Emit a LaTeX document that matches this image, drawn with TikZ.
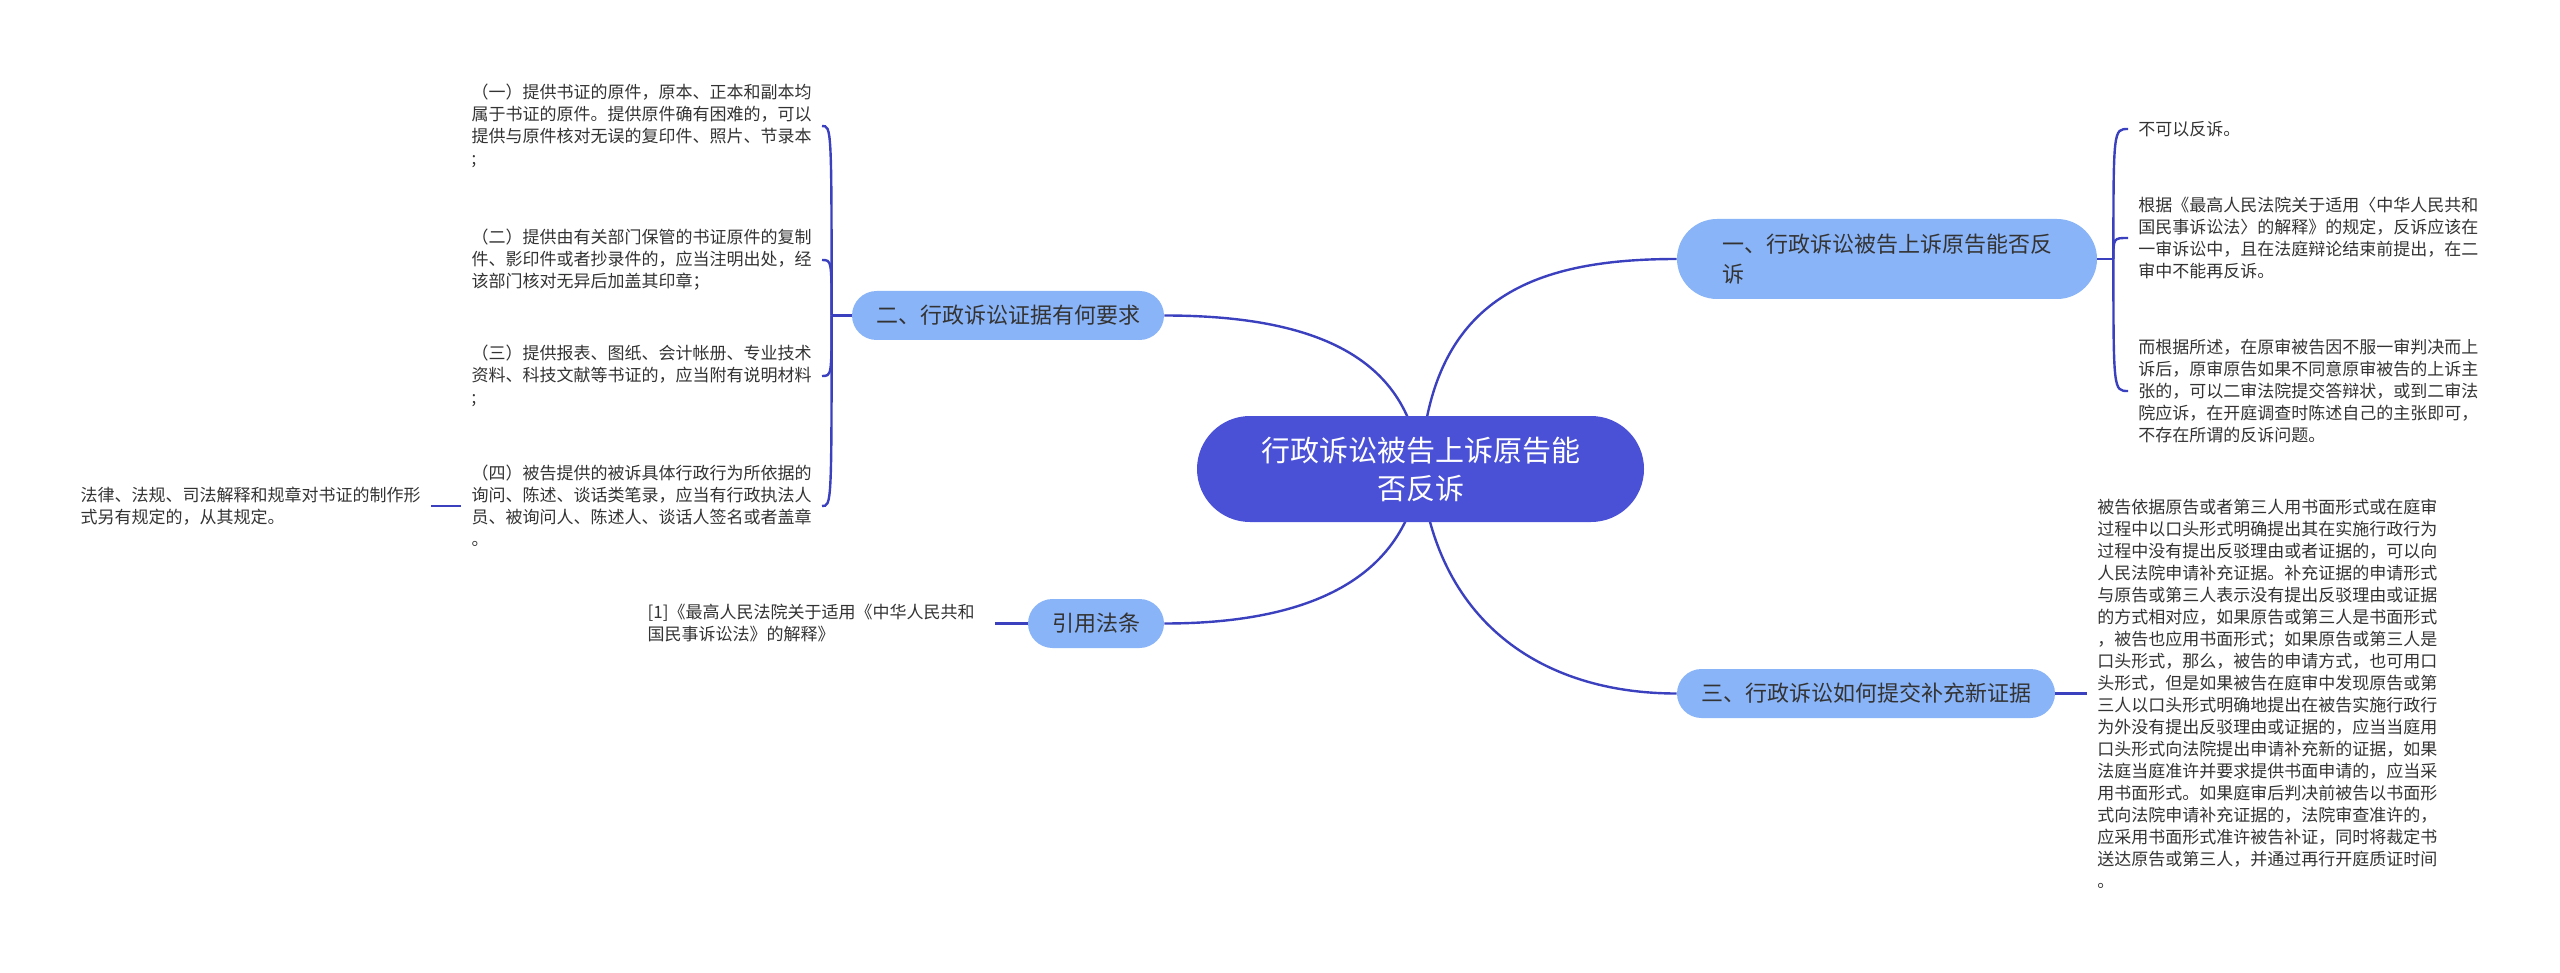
\documentclass[tikz,border=0pt]{standalone}
\usepackage{fontspec}
\setmainfont{Noto Sans CJK SC}
\usepackage{tikz}
\usetikzlibrary{backgrounds}
\definecolor{rootblue}{RGB}{74,81,214}
\definecolor{topicblue}{RGB}{138,180,248}
\definecolor{linkblue}{RGB}{58,64,190}
\definecolor{txtgray}{RGB}{51,51,51}
\begin{document}
\begin{tikzpicture}[x=0.5pt,y=-0.5pt,
 root/.style={fill=rootblue,text=white,rounded corners=26.5pt,minimum width=223.5pt,minimum height=53pt,align=center,font=\fontsize{14.5}{19}\selectfont},
 topic/.style={fill=topicblue,text=txtgray,rounded corners=12.25pt,minimum height=24.5pt,inner xsep=12pt,align=left,font=\fontsize{11}{15}\selectfont},
 leaf/.style={text=txtgray,inner xsep=5pt,inner ysep=0pt,align=left,font=\fontsize{8.5}{11}\selectfont},
 link/.style={draw=linkblue,line width=1.2pt}]
\useasboundingbox (0,0) rectangle (2560,973);
\node[root] (root) at (1420.5,469) {行政诉讼被告上诉原告能\\否反诉};
\node[topic,inner xsep=22.5pt,minimum height=40pt,rounded corners=20pt] (n1) at (1887,259) {一、行政诉讼被告上诉原告能否反\\诉};
\node[topic] (n2) at (1008,315.5) {二、行政诉讼证据有何要求};
\node[topic] (n3) at (1866,693.5) {三、行政诉讼如何提交补充新证据};
\node[topic] (n4) at (1096,623.5) {引用法条};
\node[leaf,anchor=west] (r1) at (2128,129) {不可以反诉。};
\node[leaf,anchor=west] (r2) at (2128,238) {根据《最高人民法院关于适用〈中华人民共和\\国民事诉讼法〉的解释》的规定，反诉应该在\\一审诉讼中，且在法庭辩论结束前提出，在二\\审中不能再反诉。};
\node[leaf,anchor=west] (r3) at (2128,391) {而根据所述，在原审被告因不服一审判决而上\\诉后，原审原告如果不同意原审被告的上诉主\\张的，可以二审法院提交答辩状，或到二审法\\院应诉，在开庭调查时陈述自己的主张即可，\\不存在所谓的反诉问题。};
\node[leaf,anchor=west] (r4) at (2087,693.5) {被告依据原告或者第三人用书面形式或在庭审\\过程中以口头形式明确提出其在实施行政行为\\过程中没有提出反驳理由或者证据的，可以向\\人民法院申请补充证据。补充证据的申请形式\\与原告或第三人表示没有提出反驳理由或证据\\的方式相对应，如果原告或第三人是书面形式\\，被告也应用书面形式；如果原告或第三人是\\口头形式，那么，被告的申请方式，也可用口\\头形式，但是如果被告在庭审中发现原告或第\\三人以口头形式明确地提出在被告实施行政行\\为外没有提出反驳理由或证据的，应当当庭用\\口头形式向法院提出申请补充新的证据，如果\\法庭当庭准许并要求提供书面申请的，应当采\\用书面形式。如果庭审后判决前被告以书面形\\式向法院申请补充证据的，法院审查准许的，\\应采用书面形式准许被告补证，同时将裁定书\\送达原告或第三人，并通过再行开庭质证时间\\。};
\node[leaf,anchor=east] (l1) at (822,126) {（一）提供书证的原件，原本、正本和副本均\\属于书证的原件。提供原件确有困难的，可以\\提供与原件核对无误的复印件、照片、节录本\\;};
\node[leaf,anchor=east] (l2) at (822,260) {（二）提供由有关部门保管的书证原件的复制\\件、影印件或者抄录件的，应当注明出处，经\\该部门核对无异后加盖其印章；};
\node[leaf,anchor=east] (l3) at (822,376) {（三）提供报表、图纸、会计帐册、专业技术\\资料、科技文献等书证的，应当附有说明材料\\;};
\node[leaf,anchor=east] (l4) at (822,506) {（四）被告提供的被诉具体行政行为所依据的\\询问、陈述、谈话类笔录，应当有行政执法人\\员、被询问人、陈述人、谈话人签名或者盖章\\。};
\node[leaf,anchor=east] (l5) at (431,506) {法律、法规、司法解释和规章对书证的制作形\\式另有规定的，从其规定。};
\node[leaf,anchor=east,inner xsep=10pt] (l6) at (995,623.5) {[1]《最高人民法院关于适用《中华人民共和\\国民事诉讼法》的解释》};
\begin{scope}[on background layer]
\draw[link] (root.center) .. controls +(9.5,-169) and +(-147,0) .. (n1.west);
\draw[link] (root.center) .. controls +(-10.5,-109) and +(156,0) .. (n2.east);
\draw[link] (root.center) .. controls +(14.5,151) and +(-137,0) .. (n3.west);
\draw[link] (root.center) .. controls +(-15.5,121) and +(125.5,0) .. (n4.east);
\end{scope}
\draw[link] (n1.east) -- ++(16,0) coordinate (j1);
\foreach \r in {r1,r2,r3} \draw[link] (j1) .. controls (j1 |- \r.west) .. (\r.west);
\draw[link] (n2.west) -- ++(-20,0) coordinate (j2);
\foreach \l in {l1,l2,l3,l4} \draw[link] (j2) .. controls (j2 |- \l.east) .. (\l.east);
\draw[link] (n3.east) -- (r4.west);\draw[link] (n4.west) -- (l6.east);\draw[link] (l4.west) -- (l5.east);
\end{tikzpicture}
\end{document}
